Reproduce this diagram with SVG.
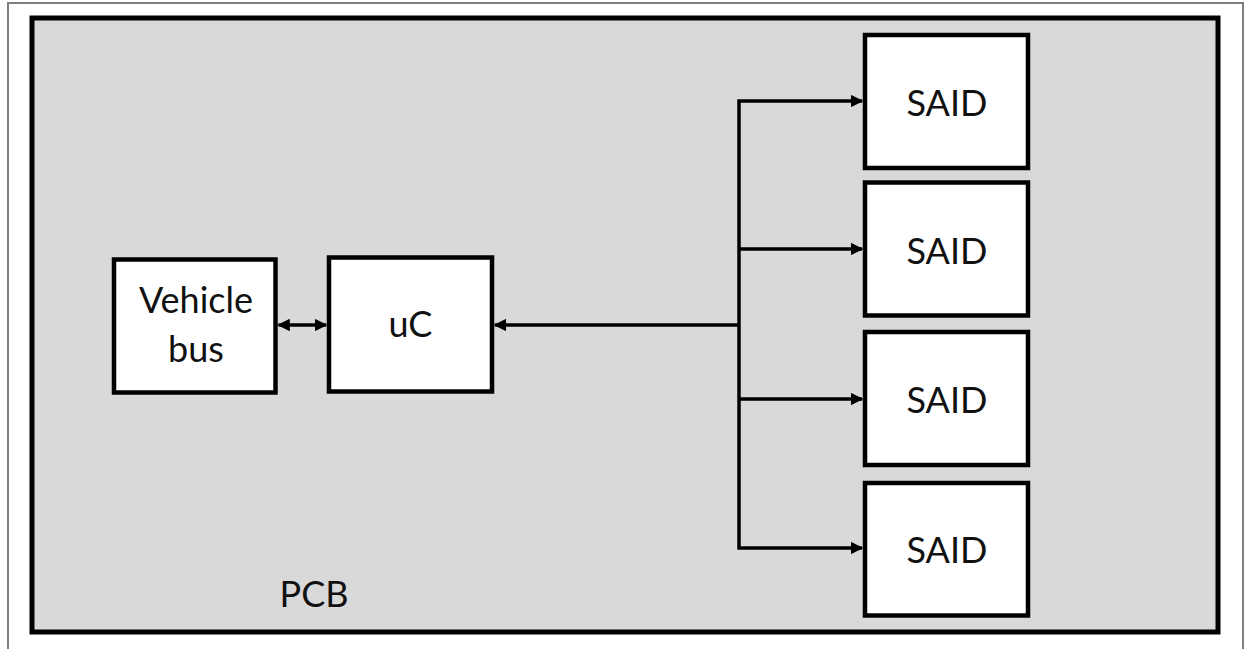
<svg xmlns="http://www.w3.org/2000/svg" width="1251" height="649" viewBox="0 0 1251 649">
  <style>
    .frame { fill: #ffffff; stroke: #7f7f7f; stroke-width: 2; }
    .pcb { fill: #d9d9d9; stroke: #000000; stroke-width: 5; }
    .box { fill: #ffffff; stroke: #000000; stroke-width: 4.5; }
    .label { font-family: Lato, "Liberation Sans", sans-serif; font-size: 36px; fill: #111111; text-anchor: middle; }
    .wire { fill: none; stroke: #000000; stroke-width: 3.5; }
  </style>
  <defs>
    <marker id="head" viewBox="0 0 10 10" refX="9" refY="5" markerWidth="3.6" markerHeight="3.6" orient="auto-start-reverse" markerUnits="strokeWidth">
      <path d="M0,0 L10,5 L0,10 Z" fill="#000000"/>
    </marker>
  </defs>

  <!-- page frame -->
  <rect class="frame" x="8" y="3" width="1235" height="660"/>

  <!-- board -->
  <g id="pcb">
    <rect class="pcb" x="32" y="18" width="1186" height="614"/>
    <text class="label" x="314" y="607">PCB</text>
  </g>

  <g id="vehicle-bus">
    <rect class="box" x="114" y="259.5" width="161.5" height="133"/>
    <text class="label" x="196" y="313">Vehicle</text>
    <text class="label" x="196" y="362">bus</text>
  </g>

  <g id="uc">
    <rect class="box" x="329" y="257.5" width="163" height="134"/>
    <text class="label" x="410.5" y="337">uC</text>
  </g>

  <g id="said-1">
    <rect class="box" x="865" y="35" width="163" height="133"/>
    <text class="label" x="947" y="116">SAID</text>
  </g>
  <g id="said-2">
    <rect class="box" x="865" y="182.5" width="163" height="133"/>
    <text class="label" x="947" y="263.5">SAID</text>
  </g>
  <g id="said-3">
    <rect class="box" x="865" y="332" width="163" height="133"/>
    <text class="label" x="947" y="413">SAID</text>
  </g>
  <g id="said-4">
    <rect class="box" x="865" y="483" width="163" height="132.5"/>
    <text class="label" x="947" y="563">SAID</text>
  </g>

  <!-- connectors -->
  <g id="connectors">
    <line class="wire" x1="278.5" y1="325" x2="326" y2="325" marker-start="url(#head)" marker-end="url(#head)"/>
    <line class="wire" x1="739" y1="325" x2="495" y2="325" marker-end="url(#head)"/>
    <polyline class="wire" points="862,101 739,101 739,548 862,548" marker-start="url(#head)" marker-end="url(#head)"/>
    <line class="wire" x1="739" y1="249" x2="862" y2="249" marker-end="url(#head)"/>
    <line class="wire" x1="739" y1="399" x2="862" y2="399" marker-end="url(#head)"/>
  </g>
</svg>
